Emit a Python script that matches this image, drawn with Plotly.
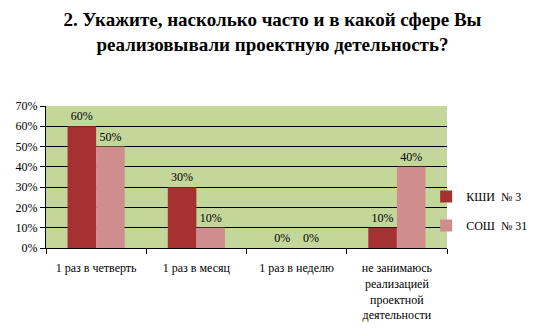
import plotly.graph_objects as go

categories = ["1 раз в четверть", "1 раз в месяц", "1 раз в неделю",
              "не занимаюсь<br>реализацией<br>проектной<br>деятельности"]
series_names = ["КШИ  № 3", "СОШ  № 31"]
kshi_values = [60, 30, 0, 10]
sosh_values = [50, 10, 0, 40]
y_ticks = [0, 10, 20, 30, 40, 50, 60, 70]

# page body has an 8px default margin, so the figure is 8px smaller
W, H = 529, 328
ml, mr, mt, mb = 38, 90, 98, 88
pw = W - ml - mr
ph = H - mt - mb

font_family = "Liberation Serif"

fig = go.Figure()
fig.add_trace(go.Bar(
    name=series_names[0], x=categories, y=kshi_values,
    legendgroup="a",
    marker=dict(color="#A63131", line=dict(width=0)),
    text=[f"{v}%" for v in kshi_values], textposition="outside",
    textfont=dict(family=font_family, size=12, color="#000"),
    cliponaxis=False,
))
fig.add_trace(go.Bar(
    name=series_names[1], x=categories, y=sosh_values,
    legendgroup="b",
    marker=dict(color="#D08D8D", line=dict(width=0)),
    text=[f"{v}%" for v in sosh_values], textposition="outside",
    textfont=dict(family=font_family, size=12, color="#000"),
    cliponaxis=False,
))

fig.update_layout(
    template="none",
    width=W, height=H,
    margin=dict(l=ml, r=mr, t=mt, b=mb, autoexpand=False),
    paper_bgcolor="white",
    plot_bgcolor="#C4D79B",
    barmode="group",
    bargap=0.43,
    bargroupgap=0,
    font=dict(family=font_family, size=12, color="#000"),
    title=dict(
        text="2. Укажите, насколько часто и в какой сфере Вы<br>реализовывали проектную детельность?",
        x=0.5, xanchor="center", y=0.945, yanchor="top",
        font=dict(family="Liberation Serif", size=19, color="#000", weight="bold"),
    ),
    showlegend=True,
    legend=dict(
        x=0.948, xanchor="left", y=0.26, yanchor="middle",
        font=dict(family=font_family, size=12, color="#000"),
        bgcolor="rgba(0,0,0,0)",
        itemwidth=30, traceorder="grouped", tracegroupgap=10,
    ),
    xaxis=dict(
        showline=True, linecolor="#000", linewidth=1,
        ticks="outside", tickson="boundaries", ticklen=5, tickcolor="#000",
        ticklabelstandoff=9,
        showgrid=False, automargin=False,
        tickfont=dict(family=font_family, size=12),
    ),
    yaxis=dict(
        range=[0, 70], tickvals=y_ticks, ticktext=[f"{v}%" for v in y_ticks],
        showline=True, linecolor="#000", linewidth=1,
        ticks="outside", ticklen=5, tickcolor="#000",
        showgrid=True, gridcolor="#000", gridwidth=1,
        zeroline=False, automargin=False,
        tickfont=dict(family=font_family, size=12),
    ),
)

fig.write_html("out.html")
